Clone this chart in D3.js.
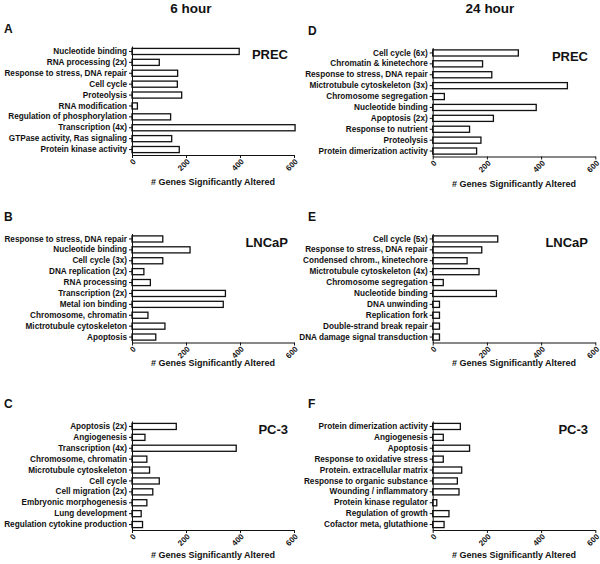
<!DOCTYPE html>
<html>
<head>
<meta charset="utf-8">
<script src="https://d3js.org/d3.v7.min.js"></script>
<style>
  body { margin: 0; background: #fff; }
  svg text { font-family: "Liberation Sans", Arial, sans-serif; font-weight: bold; fill: #111; }
</style>
</head>
<body>
<div id="chart"></div>
<script>
// ---- data ----
var colTitles = ["6 hour", "24 hour"];
var xTicks = [0, 200, 400, 600];

var precCats6 = ["Nucleotide binding", "RNA processing (2x)", "Response to stress, DNA repair", "Cell cycle", "Proteolysis", "RNA modification", "Regulation of phosphorylation", "Transcription (4x)", "GTPase activity, Ras signaling", "Protein kinase activity"];
var precVals6 = [397, 101, 169, 168, 184, 20, 143, 604, 147, 175];

var lncapCats6 = ["Response to stress, DNA repair", "Nucleotide binding", "Cell cycle (3x)", "DNA replication (2x)", "RNA processing", "Transcription (2x)", "Metal ion binding", "Chromosome, chromatin", "Mictrotubule cytoskeleton", "Apoptosis"];
var lncapVals6 = [114, 215, 114, 44, 68, 346, 338, 59, 122, 88];

var pc3Cats6 = ["Apoptosis (2x)", "Angiogenesis", "Transcription (4x)", "Chromosome, chromatin", "Microtubule cytoskeleton", "Cell cycle", "Cell migration (2x)", "Embryonic morphogenesis", "Lung development", "Regulation cytokine production"];
var pc3Vals6 = [164, 48, 386, 55, 65, 101, 77, 55, 34, 39];

var precCats24 = ["Cell cycle (6x)", "Chromatin & kinetechore", "Response to stress, DNA repair", "Mictrotubule cytoskeleton (3x)", "Chromosome segregation", "Nucleotide binding", "Apoptosis (2x)", "Response to nutrient", "Proteolysis", "Protein dimerization activity"];
var precVals24 = [316, 184, 218, 497, 43, 382, 224, 136, 178, 162];

var lncapCats24 = ["Cell cycle (5x)", "Response to stress, DNA repair", "Condensed chrom.,  kinetechore", "Mictrotubule cytoskeleton (4x)", "Chromosome segregation", "Nucleotide binding", "DNA unwinding", "Replication fork", "Double-strand break repair", "DNA damage signal transduction"];
var lncapVals24 = [240, 181, 127, 171, 39, 235, 25, 25, 25, 25];

var pc3Cats24 = ["Protein dimerization activity", "Angiogenesis", "Apoptosis", "Response to oxidative stress", "Protein. extracellular matrix", "Response to organic substance", "Wounding / inflammatory", "Protein kinase regulator", "Regulation of growth", "Cofactor meta, glutathione"];
var pc3Vals24 = [102, 39, 136, 39, 107, 91, 97, 15, 60, 42];

var panels = [
  { letter: "A", cell: "PREC",  col: 0, row: 0, cats: precCats6,   vals: precVals6 },
  { letter: "B", cell: "LNCaP", col: 0, row: 1, cats: lncapCats6,  vals: lncapVals6 },
  { letter: "C", cell: "PC-3",  col: 0, row: 2, cats: pc3Cats6,    vals: pc3Vals6 },
  { letter: "D", cell: "PREC",  col: 1, row: 0, cats: precCats24,  vals: precVals24 },
  { letter: "E", cell: "LNCaP", col: 1, row: 1, cats: lncapCats24, vals: lncapVals24 },
  { letter: "F", cell: "PC-3",  col: 1, row: 2, cats: pc3Cats24,   vals: pc3Vals24 }
];

// ---- layout ----
var W = 600, H = 564;
var colX = [[132, 294], [432.7, 595.3]];   // pixel range for 0..600
var rowTop = [46, 233.5, 421];
var titleGap = [30, 23, 27.5];
var plotH = 109;

var svg = d3.select("#chart").append("svg")
  .attr("width", W).attr("height", H);

colTitles.forEach(function(t, i) {
  svg.append("text")
    .attr("x", i == 0 ? 191 : 490).attr("y", 13)
    .attr("text-anchor", "middle")
    .style("font-size", "13.5px")
    .text(t);
});

panels.forEach(function(p) {
  var x = d3.scaleLinear().domain([0, 600]).range(colX[p.col]);
  var top = rowTop[p.row] + (p.col == 1 && p.row == 0 ? 1.5 : 0);
  var y = d3.scaleBand().domain(p.cats).range([top, top + plotH]).paddingInner(0.44).paddingOuter(0.22);

  var g = svg.append("g");

  // panel letter
  g.append("text")
    .attr("x", p.col == 0 ? 4 : 308)
    .attr("y", top - 13)
    .style("font-size", "12px")
    .text(p.letter);

  // cell line name
  g.append("text")
    .attr("x", p.col == 0 ? 288 : 588)
    .attr("y", top + 13)
    .attr("text-anchor", "end")
    .style("font-size", "13px")
    .text(p.cell);

  // bars
  g.selectAll("rect.bar")
    .data(p.cats)
    .enter().append("rect")
    .attr("class", "bar")
    .attr("x", x(0))
    .attr("y", function(d) { return y(d); })
    .attr("width", function(d, i) { return x(p.vals[i]) - x(0); })
    .attr("height", y.bandwidth())
    .attr("fill", "#fff")
    .attr("stroke", "#111")
    .attr("stroke-width", 1.3);

  // y axis
  var ya = g.append("g")
    .attr("transform", "translate(" + x(0) + ",0)")
    .call(d3.axisLeft(y).tickSize(3).tickSizeOuter(0).tickPadding(2));
  ya.selectAll("text").style("font-size", "8.2px");

  // x axis
  var xa = g.append("g")
    .attr("transform", "translate(0," + (top + plotH) + ")")
    .call(d3.axisBottom(x).tickValues(xTicks).tickSize(3).tickSizeOuter(0));
  xa.selectAll("text")
    .style("font-size", "8px")
    .style("text-anchor", "end")
    .attr("x", 0).attr("y", 0).attr("dy", "0.35em")
    .attr("transform", "translate(2,5) rotate(-45)");

  g.selectAll(".domain, .tick line").attr("stroke", "#111").attr("stroke-width", 1);

  // axis title
  g.append("text")
    .attr("x", (colX[p.col][0] + colX[p.col][1]) / 2)
    .attr("y", top + plotH + titleGap[p.row])
    .attr("text-anchor", "middle")
    .style("font-size", "9px")
    .text("# Genes Significantly Altered");
});
</script>
</body>
</html>
